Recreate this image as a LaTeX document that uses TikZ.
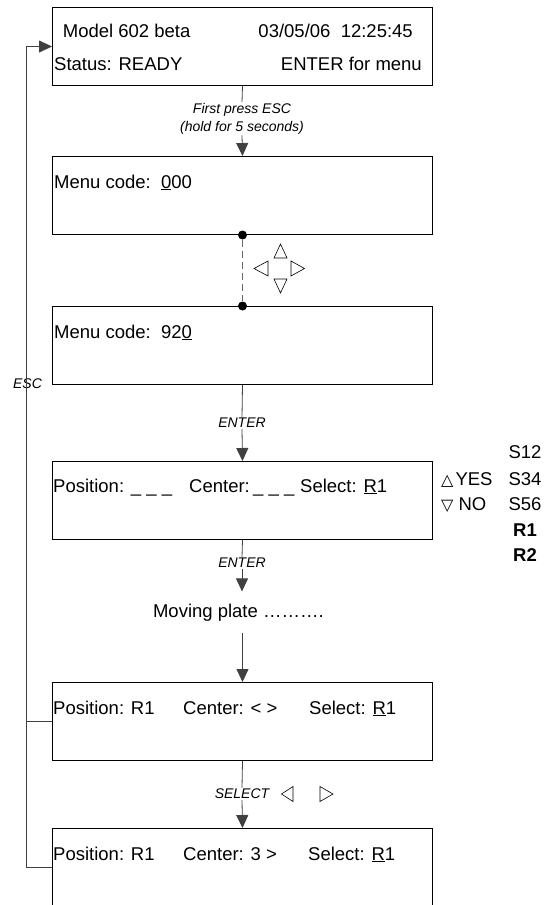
\documentclass[tikz,border=0pt]{standalone}
\usepackage{fontspec}
\setmainfont{Liberation Sans}
\newfontfamily\dejavu{DejaVu Sans}
\usetikzlibrary{arrows.meta}
\begin{document}
\begin{tikzpicture}[x=1pt,y=-1pt,
  box/.style={draw=black, line width=1pt, minimum width=380pt, minimum height=78pt, inner sep=0pt, anchor=north west},
  txt/.style={inner sep=0pt, anchor=base west, font=\fontsize{18.5}{22}\selectfont},
  lbl/.style={inner sep=1pt, font=\fontsize{14}{18}\selectfont\itshape},
  conn/.style={draw=black!75, line width=0.8pt},
  arr/.style={conn, -{Triangle[length=13pt,width=12pt]}},
  navtri/.style={draw=black, line width=0.6pt},
  dot/.style={circle, fill=black, inner sep=0pt, minimum size=9pt},
]
\useasboundingbox (0,0) rectangle (553,905);

% boxes
\node[box] (b1) at (52,7) {};
\node[box] (b2) at (52,156) {};
\node[box] (b3) at (52,306) {};
\node[box] (b4) at (52,461) {};
\node[box] (b5) at (52,682) {};
\node[box] (b6) at (52,828) {};

% box texts
\node[txt] (t1a) at (62.7,37.5) {Model 602 beta};
\node[txt, anchor=base east] (t1b) at (413,37.5) {03/05/06\ \ 12:25:45};
\node[txt] (t1c) at (54,70) {Status: READY};
\node[txt, anchor=base east] (t1d) at (422,70) {ENTER for menu};

\node[txt] (t2) at (54,188) {Menu code:\ \ \underline{0}00};
\node[txt] (t3) at (54,338) {Menu code:\ \ 92\underline{0}};

\node[txt] (t4a) at (53,492) {Position: \_ \_ \_};
\node[txt] (t4b) at (189,492) {Center:};
\node[txt] (t4c) at (253,492) {\_ \_ \_};
\node[txt] (t4d) at (300,492) {Select: \underline{R}1};

\node[txt] (t5a) at (53,714) {Position: R1};
\node[txt] (t5b) at (183,714) {Center: {<} {>}};
\node[txt] (t5c) at (309,714) {Select: \underline{R}1};

\node[txt] (t6a) at (53,860) {Position: R1};
\node[txt] (t6b) at (183,860) {Center: 3 {>}};
\node[txt] (t6c) at (308,860) {Select: \underline{R}1};

% right column
\node[txt] (yes) at (441,485) {{\dejavu\fontsize{16}{16}\selectfont △}\hspace{2pt}YES};
\node[txt] (no) at (441,510) {{\dejavu\fontsize{16}{16}\selectfont ▽}\hspace{5pt}NO};
\node[txt, anchor=base] (s12) at (525,458) {S12};
\node[txt, anchor=base] (s34) at (525,485) {S34};
\node[txt, anchor=base] (s56) at (525,510) {S56};
\node[txt, anchor=base] (r1) at (525,536) {\bfseries R1};
\node[txt, anchor=base] (r2) at (525,561) {\bfseries R2};

% connector 1
\node[lbl, align=center, anchor=north] (l1) at (242,102) {First press ESC\\(hold for 5 seconds)};
\draw[conn] (b1.south) -- (l1.north);
\draw[arr] (l1.south) -- (b2.north);

% dashed link
\node[dot] (d1) at (b2.south) {};
\node[dot] (d2) at (b3.north) {};
\draw[conn, dashed, dash pattern=on 7pt off 4pt, draw=black!60] (d1) -- (d2);
\draw[navtri] (274,258) -- (287,258) -- (280.5,244) -- cycle;
\draw[navtri] (274,279) -- (287,279) -- (280.5,293) -- cycle;
\draw[navtri] (268,261) -- (268,276) -- (254,268.5) -- cycle;
\draw[navtri] (291,261) -- (291,276) -- (304.5,268.5) -- cycle;

% ENTER 1
\node[lbl] (e1) at (242,423) {ENTER};
\draw[conn] (b3.south) -- (e1.north);
\draw[arr] (e1.south) -- (b4.north);

% ENTER 2
\node[lbl] (e2) at (242,563) {ENTER};
\draw[conn] (b4.south) -- (e2.north);
\node[txt, anchor=base, inner xsep=0pt, inner ysep=12pt] (mp) at (238.4,617) {Moving plate ……….};
\draw[arr] (e2.south) -- (e2.south |- mp.north);
\draw[arr] (b5.north |- mp.south) -- (b5.north);

% SELECT
\node[lbl] (sel) at (242,794) {SELECT};
\draw[conn] (b5.south) -- (sel.north);
\draw[arr] (sel.south) -- (b6.north);
\draw[navtri] (293,786.5) -- (293,801.5) -- (281.5,794) -- cycle;
\draw[navtri] (320,786.5) -- (320,801.5) -- (333,794) -- cycle;

% feedback ESC
\node[lbl] (esc) at (27.5,384) {ESC};
\draw[arr] (b6.west) -- ++(-26,0) |- (b1.west);
\draw[conn] (b5.west) -- ++(-26,0);
\end{tikzpicture}
\end{document}
